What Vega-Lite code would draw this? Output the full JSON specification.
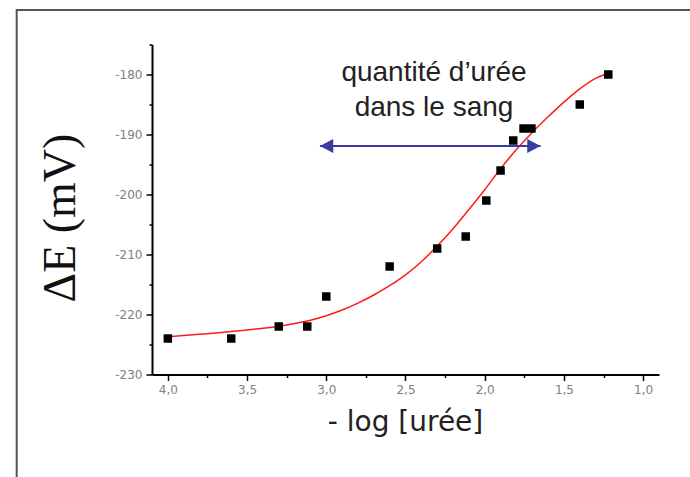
{
  "$schema": "https://vega.github.io/schema/vega-lite/v6.json",
  "width": 507,
  "height": 330,
  "autosize": "none",
  "padding": {"left": 152, "top": 44.5, "right": 31, "bottom": 102.5},
  "background": "white",
  "config": {"view": {"stroke": null}, "axis": {"grid": false}},
  "datasets": {
    "frame": [
      {"x": 4.954, "x_end": -2, "y": -169.25, "y_end": -280}
    ],
    "fit": [
      {"x": 4.0, "y": -223.7},
      {"x": 3.9, "y": -223.5},
      {"x": 3.8, "y": -223.3},
      {"x": 3.7, "y": -223.1},
      {"x": 3.6, "y": -222.85},
      {"x": 3.5, "y": -222.6},
      {"x": 3.4, "y": -222.3},
      {"x": 3.3, "y": -221.95},
      {"x": 3.2, "y": -221.5},
      {"x": 3.1, "y": -220.95},
      {"x": 3.0, "y": -220.2},
      {"x": 2.9, "y": -219.25},
      {"x": 2.8, "y": -218.1},
      {"x": 2.7, "y": -216.75},
      {"x": 2.6, "y": -215.2},
      {"x": 2.5, "y": -213.4},
      {"x": 2.4, "y": -211.2},
      {"x": 2.3, "y": -208.6},
      {"x": 2.2, "y": -205.7},
      {"x": 2.1, "y": -202.5},
      {"x": 2.0, "y": -199.2},
      {"x": 1.9, "y": -195.7},
      {"x": 1.8, "y": -192.5},
      {"x": 1.7, "y": -189.65},
      {"x": 1.6, "y": -187.05},
      {"x": 1.5, "y": -184.6},
      {"x": 1.4, "y": -182.4},
      {"x": 1.3, "y": -180.65},
      {"x": 1.22, "y": -179.8}
    ],
    "measures": [
      {"x": 4.0, "y": -224},
      {"x": 3.6, "y": -224},
      {"x": 3.3, "y": -222},
      {"x": 3.12, "y": -222},
      {"x": 3.0, "y": -217},
      {"x": 2.6, "y": -212},
      {"x": 2.3, "y": -209},
      {"x": 2.12, "y": -207},
      {"x": 1.99, "y": -201},
      {"x": 1.9, "y": -196},
      {"x": 1.82, "y": -191},
      {"x": 1.755, "y": -189},
      {"x": 1.705, "y": -189},
      {"x": 1.4, "y": -185},
      {"x": 1.22, "y": -180}
    ],
    "range_arrow": [
      {"x": 3.04, "x_end": 1.6475, "y": -191.9}
    ],
    "range_tips": [
      {"x": 3.04, "y": -191.9, "side": "left"},
      {"x": 1.6475, "y": -191.9, "side": "right"}
    ],
    "note": [
      {"x": 2.32, "y": -181.1, "text": "quantité d’urée"},
      {"x": 2.32, "y": -186.9, "text": "dans le sang"}
    ]
  },
  "encoding": {
    "x": {
      "field": "x",
      "type": "quantitative",
      "scale": {"domain": [0.9, 4.1], "reverse": true, "nice": false, "zero": false},
      "axis": {
        "values": [4, 3.75, 3.5, 3.25, 3, 2.75, 2.5, 2.25, 2, 1.75, 1.5, 1.25, 1],
        "labelExpr": "abs(datum.value * 2 - round(datum.value * 2)) < 0.001 ? replace(format(datum.value, '.1f'), '.', ',') : ''",
        "labelFont": "DejaVu Sans",
        "labelFontSize": 12,
        "labelColor": "#808080",
        "labelPadding": 4,
        "labelFlush": false,
        "labelAngle": 0,
        "domainColor": "#000000",
        "domainWidth": 2,
        "tickColor": "#000000",
        "tickWidth": 1.5,
        "tickSize": {"condition": {"test": "abs(datum.value * 2 - round(datum.value * 2)) < 0.001", "value": 6}, "value": 3},
        "title": "- log [urée]",
        "titleFont": "DejaVu Sans",
        "titleFontSize": 28,
        "titleFontWeight": "normal",
        "titleColor": "#222222",
        "titleBaseline": "alphabetic",
        "titleAlign": "center",
        "titleX": 253,
        "titleY": 56
      }
    },
    "y": {
      "field": "y",
      "type": "quantitative",
      "scale": {"domain": [-230, -175], "nice": false, "zero": false},
      "axis": {
        "values": [-230, -225, -220, -215, -210, -205, -200, -195, -190, -185, -180, -175],
        "labelExpr": "datum.value % 10 === 0 ? '' + datum.value : ''",
        "labelFont": "DejaVu Sans",
        "labelFontSize": 12,
        "labelColor": "#808080",
        "labelPadding": 4,
        "labelFlush": false,
        "domainColor": "#000000",
        "domainWidth": 2,
        "tickColor": "#000000",
        "tickWidth": 1.5,
        "tickSize": {"condition": {"test": "datum.value % 10 === 0", "value": 6}, "value": 3},
        "title": "ΔE (mV)",
        "titleFont": "Liberation Serif",
        "titleFontSize": 46,
        "titleFontWeight": "normal",
        "titleColor": "#111111",
        "titleAngle": 270,
        "titleBaseline": "alphabetic",
        "titleAlign": "center",
        "titleX": -78,
        "titleY": 173
      }
    }
  },
  "layer": [
    {
      "data": {"name": "frame"},
      "mark": {"type": "rect", "fill": null, "stroke": "#555555", "strokeWidth": 2, "clip": false},
      "encoding": {
        "x2": {"field": "x_end"},
        "y2": {"field": "y_end"}
      }
    },
    {
      "data": {"name": "fit"},
      "mark": {"type": "line", "color": "#ff1a1a", "strokeWidth": 1.5, "interpolate": "monotone"},
      "encoding": {}
    },
    {
      "data": {"name": "measures"},
      "mark": {"type": "point", "shape": "square", "filled": true, "color": "#000000", "size": 72, "opacity": 1}
    },
    {
      "data": {"name": "range_arrow"},
      "mark": {"type": "rule", "color": "#3b3b9f", "strokeWidth": 2},
      "encoding": {
        "x2": {"field": "x_end"}
      }
    },
    {
      "data": {"name": "range_tips"},
      "mark": {"type": "point", "filled": true, "color": "#3b3b9f", "size": 196, "opacity": 1},
      "encoding": {
        "shape": {
          "field": "side",
          "type": "nominal",
          "scale": {"domain": ["left", "right"], "range": ["M0,0L1.9,-1L1.9,1Z", "M0,0L-1.9,-1L-1.9,1Z"]},
          "legend": null
        }
      }
    },
    {
      "data": {"name": "note"},
      "mark": {"type": "text", "font": "Liberation Sans", "fontSize": 28, "color": "#222222", "align": "center", "baseline": "alphabetic"},
      "encoding": {
        "text": {"field": "text", "type": "nominal"}
      }
    }
  ]
}
